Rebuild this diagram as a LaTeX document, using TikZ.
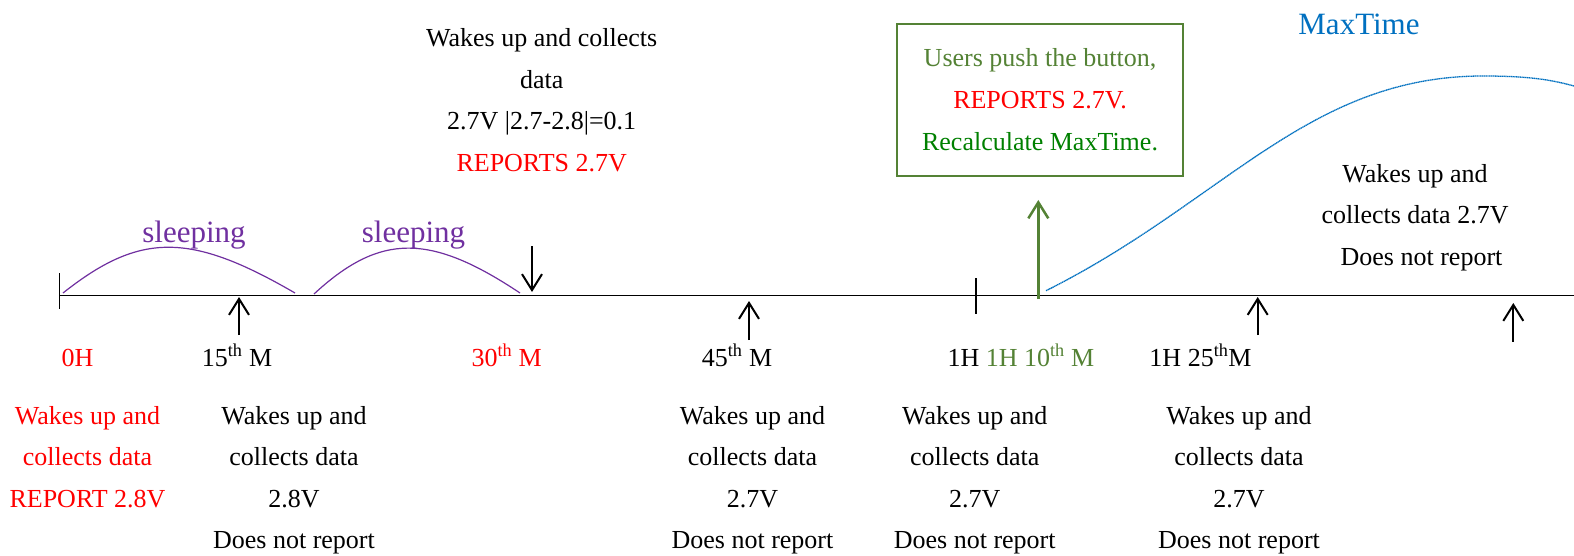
\documentclass[tikz,border=0pt]{standalone}
\usepackage{fontspec}
\setmainfont{Liberation Serif}
\usetikzlibrary{arrows.meta}
\definecolor{myred}{HTML}{FF0000}
\definecolor{mypurple}{HTML}{7030A0}
\definecolor{myblue}{HTML}{0070C0}
\definecolor{ogreen}{HTML}{548235}
\definecolor{dgreen}{HTML}{008000}
\tikzset{
  txt/.style={font=\fontsize{26}{41.5}\selectfont, inner sep=0pt, align=center},
  big/.style={font=\fontsize{31}{36}\selectfont, inner sep=0pt},
  axis/.style={line width=1.3pt, black},
  tick/.style={line width=1.3pt, black},
  marker/.style={line width=2pt, black, -{Straight Barb[length=16pt,width=20pt]}},
  pushmarker/.style={line width=2.5pt, ogreen, -{Straight Barb[length=16pt,width=20pt]}},
  sleeparc/.style={line width=1.2pt, mypurple},
  maxcurve/.style={line width=1.3pt, myblue, dash pattern=on 1.3pt off 0.5pt},
  pushbox/.style={draw=ogreen, line width=2pt, minimum width=286pt, minimum height=152pt, inner sep=0pt, align=center, font=\fontsize{26}{42}\selectfont}
}
\begin{document}
\begin{tikzpicture}[x=1pt,y=-1pt]
\useasboundingbox (0,0) rectangle (1574,556);

% timeline
\coordinate (t0) at (59.3,295.7);
\coordinate (tend) at (1574,295.7);
\draw[axis] (t0) -- (tend);
\coordinate (k0a) at (59.3,273);
\coordinate (k0b) at (59.3,309);
\draw[tick] (k0a) -- (k0b);
\coordinate (k1a) at (976,278);
\coordinate (k1b) at (976,314);
\draw[tick] (k1a) -- (k1b);

% sleeping arcs
\coordinate (s1a) at (63,293);
\coordinate (s1b) at (295,293);
\draw[sleeparc] (s1a) .. controls (140,232) and (190,232) .. (s1b);
\coordinate (s2a) at (314,294);
\coordinate (s2b) at (520,293);
\draw[sleeparc] (s2a) .. controls (380,233) and (430,233) .. (s2b);
\node[big, text=mypurple, anchor=base] (sl1) at (194,243) {sleeping};
\node[big, text=mypurple, anchor=base] (sl2) at (413.5,243) {sleeping};

% markers
\coordinate (m15a) at (239,335);  \coordinate (m15b) at (239,297);
\draw[marker] (m15a) -- (m15b);
\coordinate (m30a) at (532,246);  \coordinate (m30b) at (532,292);
\draw[marker] (m30a) -- (m30b);
\coordinate (m45a) at (749,340);  \coordinate (m45b) at (749,301);
\draw[marker] (m45a) -- (m45b);
\coordinate (m85a) at (1257.7,335); \coordinate (m85b) at (1257.7,297);
\draw[marker] (m85a) -- (m85b);
\coordinate (m100a) at (1513.3,341.7); \coordinate (m100b) at (1513.3,303);
\draw[marker] (m100a) -- (m100b);
\coordinate (m70a) at (1038.3,299); \coordinate (m70b) at (1038.3,200);
\draw[pushmarker] (m70a) -- (m70b);

% MaxTime curve
\coordinate (c0) at (1046,290.7);
\coordinate (cpk) at (1483,76);
\coordinate (cend) at (1574,86);
\draw[maxcurve] (c0) .. controls (1224,201.7) and (1308,76) .. (cpk)
  .. controls (1530,76) and (1552,80) .. (cend);
\node[big, text=myblue, anchor=base] (maxt) at (1359,34.3) {MaxTime};

% push box
\node[pushbox] (box) at (1040,100) {{\color{ogreen}Users push the button,}\\{\color{myred}REPORTS 2.7V.}\\{\color{dgreen}Recalculate MaxTime.}};

% top block
\node[txt, anchor=north] (top) at (541.7,28.4) {Wakes up and collects\\data\\2.7V |2.7-2.8|=0.1\\{\color{myred}REPORTS 2.7V}};

% right block
\node[txt, anchor=north] (right) at (1415,164.1) {Wakes up and\\collects data 2.7V\\\hspace{13pt}Does not report};

% time labels
\node[txt, anchor=base, text=myred] (l0) at (77.5,366) {0H};
\node[txt, anchor=base] (l15) at (237,366) {15\textsuperscript{th} M};
\node[txt, anchor=base, text=myred] (l30) at (506.7,366) {30\textsuperscript{th} M};
\node[txt, anchor=base] (l45) at (737,366) {45\textsuperscript{th} M};
\node[txt, anchor=base west] (l60) at (947.3,366) {1H {\color{ogreen}1H 10\textsuperscript{th} M}};
\node[txt, anchor=base] (l85) at (1200.5,366) {1H 25\textsuperscript{th}M};

% bottom blocks
\node[txt, anchor=north, text=myred] (b0) at (87.5,405.9) {Wakes up and\\collects data\\REPORT 2.8V};
\node[txt, anchor=north] (b15) at (294,405.9) {Wakes up and\\collects data\\2.8V\\Does not report};
\node[txt, anchor=north] (b45) at (752.5,405.9) {Wakes up and\\collects data\\2.7V\\Does not report};
\node[txt, anchor=north] (b60) at (974.7,405.9) {Wakes up and\\collects data\\2.7V\\Does not report};
\node[txt, anchor=north] (b85) at (1239,405.9) {Wakes up and\\collects data\\2.7V\\Does not report};
\end{tikzpicture}
\end{document}
